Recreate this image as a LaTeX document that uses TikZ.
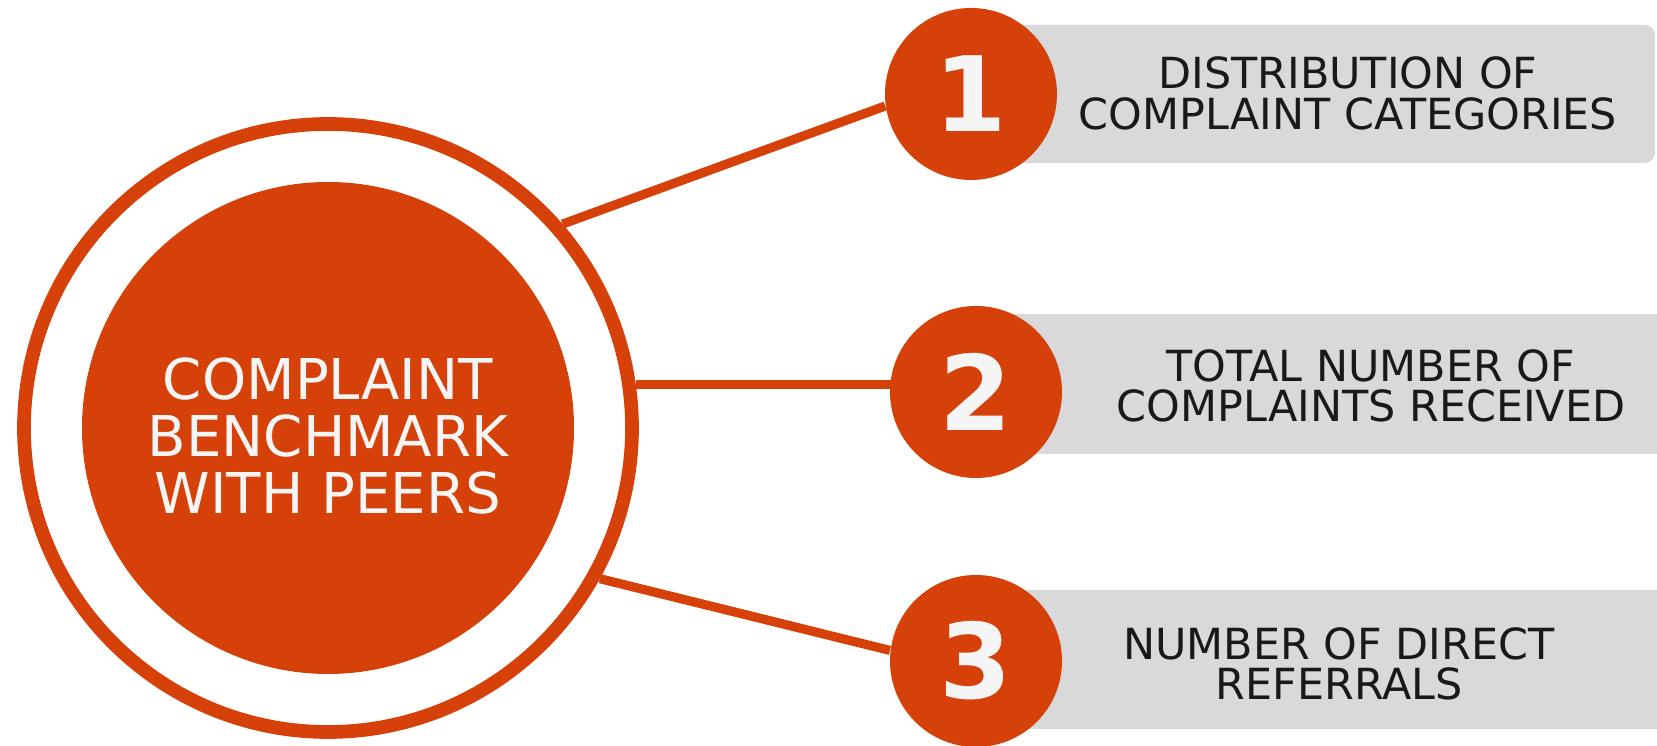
\documentclass[tikz,border=0pt]{standalone}
\usepackage{fontspec}
\setmainfont{DejaVu Sans}
\usepackage{tikz}

\definecolor{peerorange}{RGB}{214,64,9}
\definecolor{boxgray}{RGB}{217,217,217}
\definecolor{softwhite}{RGB}{245,245,245}

\begin{document}
\begin{tikzpicture}[
        numcirc/.style={shape=circle, fill=peerorange, minimum size=1.72cm, inner sep=0pt,
            text=softwhite, font=\fontsize{29.6}{30}\selectfont\bfseries},
        itemtext/.style={align=center, text=black!90, font=\fontsize{12.2}{11.6}\selectfont},
        link/.style={peerorange, line width=2.6pt}
    ]
        \useasboundingbox (0, 0) rectangle (16.57, 7.46);

        \fill[boxgray, rounded corners=0.1cm] (9.75, 5.83) rectangle (16.55, 7.21);
        \fill[boxgray] (9.75, 2.92) rectangle (16.8, 4.32);
        \fill[boxgray] (9.75, 0.17) rectangle (16.8, 1.56);

        \node[shape=circle, draw=peerorange, line width=3.9pt, minimum size=6.08cm] (ring) at (3.28, 3.18) {};
        \node[shape=circle, fill=peerorange, minimum size=4.92cm] (core) at (3.28, 3.18) {};
        \node[text=softwhite, align=center, font=\fontsize{16}{16.2}\selectfont] (title)
            at (3.28, 3.10) {COMPLAINT\\BENCHMARK\\WITH PEERS};

        \node[numcirc] (num1) at (9.71, 6.52) {1};
        \node[numcirc] (num2) at (9.76, 3.54) {2};
        \node[numcirc] (num3) at (9.76, 0.85) {3};

        \draw[link] (ring.41) -- (num1.188);
        \draw[link, shorten >=-0.1cm] (ring.8) -- (ring.8 -| num2.west);
        \draw[link] (ring.-29) -- (num3.173);

        \node[itemtext] (item1) at (13.48, 6.525) {DISTRIBUTION OF\\COMPLAINT CATEGORIES};
        \node[itemtext] (item2) at (13.71, 3.60) {TOTAL NUMBER OF\\COMPLAINTS RECEIVED};
        \node[itemtext] (item3) at (13.39, 0.82) {NUMBER OF DIRECT\\REFERRALS};

    \end{tikzpicture}
\end{document}
